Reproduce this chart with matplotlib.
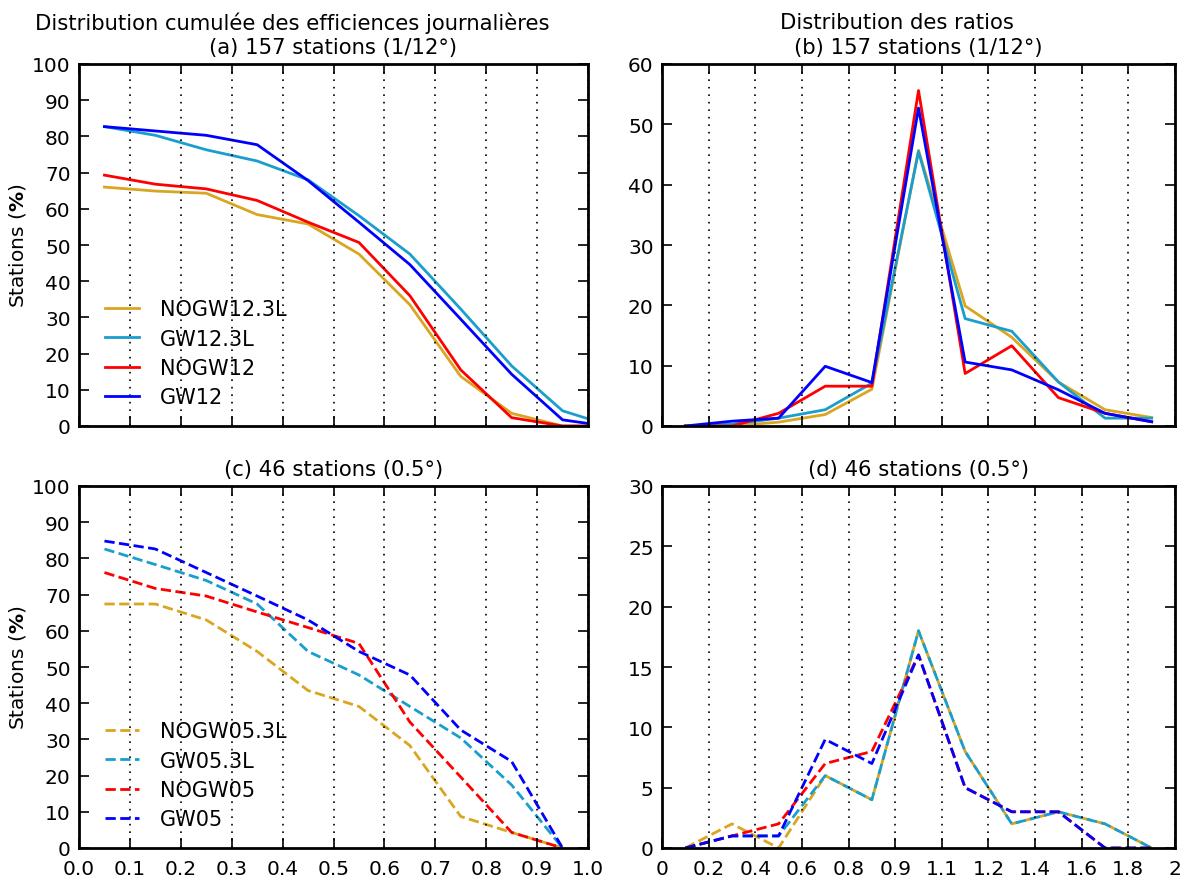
import matplotlib
matplotlib.use("Agg")
import matplotlib.pyplot as plt

# ---- data -------------------------------------------------------------
x_eff_12 = [0.05, 0.15, 0.25, 0.35, 0.45, 0.55, 0.65, 0.75, 0.85, 0.95, 1.0]
nogw12_3l = [66.0, 64.9, 64.3, 58.4, 55.8, 47.5, 33.5, 13.7, 3.5, 0.0, 0.0]
gw12_3l = [82.7, 80.3, 76.3, 73.2, 68.0, 58.1, 47.5, 32.3, 16.6, 4.2, 2.0]
nogw12 = [69.3, 66.8, 65.5, 62.3, 56.3, 50.7, 36.0, 15.5, 2.3, 0.0, 0.0]
gw12 = [82.7, 81.5, 80.3, 77.7, 67.8, 56.3, 44.6, 29.5, 14.3, 1.7, 0.7]

x_eff_05 = [0.05, 0.15, 0.25, 0.35, 0.45, 0.55, 0.65, 0.75, 0.85, 0.95]
nogw05_3l = [67.4, 67.4, 63.0, 54.3, 43.5, 39.1, 28.3, 8.7, 4.3, 0.0]
gw05_3l = [82.6, 78.3, 73.9, 67.4, 54.3, 47.8, 39.1, 30.4, 17.4, 0.0]
nogw05 = [76.1, 71.7, 69.6, 65.2, 60.9, 56.5, 34.8, 19.6, 4.3, 0.0]
gw05 = [84.8, 82.6, 76.1, 69.6, 63.0, 54.3, 47.8, 32.6, 23.9, 0.0]

# ratio bins: plotted at bin centres between the (unevenly labelled) edges
ratio_edges = ["0", "0.2", "0.4", "0.6", "0.8", "0.9", "1.1", "1.2", "1.4", "1.6", "1.8", "2"]
x_ratio = [0.5, 1.5, 2.5, 3.5, 4.5, 5.5, 6.5, 7.5, 8.5, 9.5, 10.5]
r_nogw12_3l = [0, 0, 0.64, 1.9, 6.1, 45.7, 19.9, 14.7, 7.3, 2.7, 1.4]
r_gw12_3l = [0, 0.3, 1.3, 2.7, 7.1, 45.5, 17.8, 15.7, 7.3, 1.3, 1.3]
r_nogw12 = [0, 0, 2.1, 6.6, 6.6, 55.6, 8.7, 13.3, 4.7, 2.1, 0.7]
r_gw12 = [0, 0.8, 1.3, 9.9, 7.2, 52.7, 10.6, 9.3, 6.0, 2.1, 0.7]

r_nogw05_3l = [0, 2, 0, 6, 4, 18, 8, 2, 3, 2, 0]
r_gw05_3l = [0, 1, 1, 6, 4, 18, 8, 2, 3, 2, 0]
r_nogw05 = [0, 1, 2, 7, 8, 16, 5, 3, 3, 0, 0]
r_gw05 = [0, 1, 1, 9, 7, 16, 5, 3, 3, 0, 0]

ORANGE, CYAN, RED, BLUE = "#DAA520", "#1A9ECE", "#FF0000", "#0000FF"

plt.rcParams["font.family"] = "DejaVu Sans"
plt.rcParams["font.size"] = 14.5

fig = plt.figure(figsize=(11.83, 8.79), dpi=100)
W, H = 1183, 879


def add_ax(x0, y0, x1, y1):
    return fig.add_axes([x0 / W, 1 - y1 / H, (x1 - x0) / W, (y1 - y0) / H])


ax_a = add_ax(79, 65, 588, 427)
ax_b = add_ax(662, 65, 1175, 427)
ax_c = add_ax(79, 487, 588, 849)
ax_d = add_ax(662, 487, 1175, 849)


def style(ax):
    for s in ax.spines.values():
        s.set_linewidth(2)
    ax.tick_params(direction="in", length=7, width=1.2, top=True, right=True,
                   labelsize=14.5, pad=6)
    ax.tick_params(axis="x", pad=8)
    ax.grid(axis="x", color="k", linestyle=(0, (1, 3.5)), linewidth=1.2)
    ax.set_axisbelow(False)


lw = 2.0
# (a)
for y, c, lab in [(nogw12_3l, ORANGE, "NOGW12.3L"), (gw12_3l, CYAN, "GW12.3L"),
                  (nogw12, RED, "NOGW12"), (gw12, BLUE, "GW12")]:
    ax_a.plot(x_eff_12, y, color=c, lw=lw, label=lab)
# (c)
for y, c, lab in [(nogw05_3l, ORANGE, "NOGW05.3L"), (gw05_3l, CYAN, "GW05.3L"),
                  (nogw05, RED, "NOGW05"), (gw05, BLUE, "GW05")]:
    ax_c.plot(x_eff_05, y, color=c, lw=lw, ls="--", label=lab)
# (b)
for y, c in [(r_nogw12_3l, ORANGE), (r_gw12_3l, CYAN), (r_nogw12, RED), (r_gw12, BLUE)]:
    ax_b.plot(x_ratio, y, color=c, lw=lw)
# (d)
for y, c in [(r_nogw05_3l, ORANGE), (r_gw05_3l, CYAN), (r_nogw05, RED), (r_gw05, BLUE)]:
    ax_d.plot(x_ratio, y, color=c, lw=lw, ls="--")

for ax in (ax_a, ax_c):
    style(ax)
    ax.set_xlim(0, 1)
    ax.set_ylim(0, 100)
    ax.set_xticks([i / 10 for i in range(11)])
    ax.set_yticks(range(0, 101, 10))
    ax.set_ylabel(r"Stations ($\mathbf{\%}$)", fontsize=14.5, labelpad=3)
    ax.legend(loc="lower left", frameon=False, fontsize=15, handlelength=1.6,
              handletextpad=1.0, labelspacing=0.45, bbox_to_anchor=(0.015, 0.0))
ax_a.set_xticklabels([])
ax_c.set_xticklabels([f"{i / 10:.1f}" for i in range(11)])

for ax, ymax, step in [(ax_b, 60, 10), (ax_d, 30, 5)]:
    style(ax)
    ax.set_xlim(0, 11)
    ax.set_ylim(0, ymax)
    ax.set_xticks(range(12))
    ax.set_yticks(range(0, ymax + 1, step))
ax_b.set_xticklabels([])
ax_d.set_xticklabels(ratio_edges)

ax_a.set_title("(a) 157 stations (1/12°)", fontsize=15.2, pad=8)
ax_b.set_title("(b) 157 stations (1/12°)", fontsize=15.2, pad=8)
ax_c.set_title("(c) 46 stations (0.5°)", fontsize=15.2, pad=8)
ax_d.set_title("(d) 46 stations (0.5°)", fontsize=15.2, pad=8)
fig.text(292 / W, 1 - 23 / H, "Distribution cumulée des efficiences journalières",
         ha="center", va="center", fontsize=15.2)
fig.text(897 / W, 1 - 23 / H, "Distribution des ratios",
         ha="center", va="center", fontsize=15.2)

fig.savefig("out.png", dpi=100, facecolor="white")
